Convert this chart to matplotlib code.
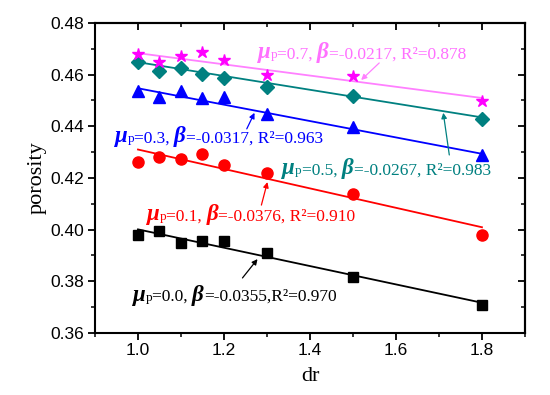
import numpy as np
import matplotlib
matplotlib.use("Agg")
import matplotlib.pyplot as plt
import matplotlib.ticker as mticker
from matplotlib.offsetbox import TextArea, HPacker, AnnotationBbox

dr = [1.0, 1.05, 1.1, 1.15, 1.2, 1.3, 1.5, 1.8]

por_00 = [0.398, 0.3993, 0.395, 0.3955, 0.3955, 0.391, 0.3815, 0.371]
por_01 = [0.426, 0.428, 0.4272, 0.4293, 0.4251, 0.4218, 0.4138, 0.398]
por_03 = [0.4538, 0.4515, 0.4535, 0.4508, 0.4512, 0.4448, 0.4399, 0.4289]
por_05 = [0.4648, 0.4614, 0.4625, 0.4603, 0.4585, 0.4553, 0.4517, 0.4428]
por_07 = [0.4679, 0.465, 0.4673, 0.4687, 0.4657, 0.4599, 0.4596, 0.4499]

# fitted lines: value at dr=1.0 and slope beta
fit_start = [0.4001, 0.4310, 0.4547, 0.4648, 0.4683]
betas = [-0.0355, -0.0376, -0.0317, -0.0267, -0.0217]
mu_p = ['0.0', '0.1', '0.3', '0.5', '0.7']
beta_txt = ['-0.0355', '-0.0376', '-0.0317', '-0.0267', '-0.0217']
r2_txt = ['0.970', '0.910', '0.963', '0.983', '0.878']

series = [por_00, por_01, por_03, por_05, por_07]
markers = ['s', 'o', '^', 'D', '*']
msizes = [6.5, 8, 8.5, 7, 9]
colors = ['black', '#ff0000', '#0000ff', '#008080', '#ff00ff']
line_colors = ['black', '#ff0000', '#0000ff', '#008080', '#ff80ff']
text_colors = ['black', '#ff0000', '#0000ff', '#008080', '#ff70ff']

# text start (x, y centre) and arrow (tail, head) in data coords
text_pos = [(0.988, 0.3747), (1.021, 0.4057), (0.946, 0.4359), (1.336, 0.4235), (1.278, 0.4684)]
arrows = [((1.243, 0.3813), (1.278, 0.3886)),
          ((1.287, 0.4095), (1.301, 0.4184)),
          ((1.253, 0.4390), (1.271, 0.4452)),
          ((1.724, 0.4289), (1.710, 0.4452)),
          ((1.561, 0.4645), (1.519, 0.4579))]


def label_box(i):
    c = text_colors[i]
    reg = dict(color=c, fontsize=12.5, family='Liberation Serif')
    big = dict(color=c, fontsize=16.5, family='Liberation Serif', style='italic', weight='bold')
    small = dict(color=c, fontsize=9.5, family='Liberation Serif')
    comma = ', ' if i > 0 else ','
    parts = [TextArea('\u03bc', textprops=big),
             TextArea('p', textprops=small),
             TextArea('=' + mu_p[i] + ', ', textprops=reg),
             TextArea('\u03b2', textprops=big),
             TextArea('=' + beta_txt[i] + comma + 'R\u00b2=' + r2_txt[i], textprops=reg)]
    return HPacker(children=parts, align='baseline', pad=0, sep=0)


fig = plt.figure(figsize=(5.5, 3.95), dpi=100)
ax = fig.add_axes([0.1727, 0.157, 0.7818, 0.785])

for i in range(5):
    ax.plot(dr, series[i], linestyle='none', marker=markers[i], ms=msizes[i],
            color=colors[i], zorder=3)
    xl = np.array([dr[0], dr[-1]])
    ax.plot(xl, fit_start[i] + betas[i] * (xl - dr[0]), color=line_colors[i], lw=1.3, zorder=2)
    ab = AnnotationBbox(label_box(i), text_pos[i], xycoords='data', box_alignment=(0, 0.5),
                        frameon=False, pad=0)
    ax.add_artist(ab)
    (x0, y0), (x1, y1) = arrows[i]
    ax.annotate('', xy=(x1, y1), xytext=(x0, y0),
                arrowprops=dict(arrowstyle='-|>', color=line_colors[i], lw=0.9,
                                mutation_scale=8, shrinkA=0, shrinkB=0))

ax.set_xlim(0.9, 1.9)
ax.set_ylim(0.36, 0.48)
ax.xaxis.set_major_locator(mticker.MultipleLocator(0.2))
ax.xaxis.set_minor_locator(mticker.MultipleLocator(0.1))
ax.yaxis.set_major_locator(mticker.MultipleLocator(0.02))
ax.yaxis.set_minor_locator(mticker.MultipleLocator(0.01))
ax.xaxis.set_major_formatter(mticker.FormatStrFormatter('%.1f'))
ax.yaxis.set_major_formatter(mticker.FormatStrFormatter('%.2f'))
ax.tick_params(which='major', direction='out', length=5, width=1.3, labelsize=12.5, pad=2.5)
ax.tick_params(which='minor', direction='out', length=3, width=1.1)
for lab in ax.get_xticklabels() + ax.get_yticklabels():
    lab.set_family('Liberation Sans')
for s in ax.spines.values():
    s.set_linewidth(1.5)

secx = ax.secondary_xaxis('top')
secx.xaxis.set_major_locator(mticker.MultipleLocator(0.2))
secx.xaxis.set_minor_locator(mticker.MultipleLocator(0.1))
secx.tick_params(which='major', direction='in', length=5, width=1.3, labeltop=False)
secx.tick_params(which='minor', direction='in', length=3, width=1.1)
secx.spines['top'].set_linewidth(1.5)
secy = ax.secondary_yaxis('right')
secy.yaxis.set_major_locator(mticker.MultipleLocator(0.02))
secy.yaxis.set_minor_locator(mticker.MultipleLocator(0.01))
secy.tick_params(which='major', direction='in', length=5, width=1.3, labelright=False)
secy.tick_params(which='minor', direction='in', length=3, width=1.1)
secy.spines['right'].set_linewidth(1.5)

ax.set_xlabel('dr', family='Liberation Serif', fontsize=16, labelpad=6)
ax.set_ylabel('porosity', family='Liberation Serif', fontsize=16, labelpad=3)

fig.savefig('out.png', dpi=100)
